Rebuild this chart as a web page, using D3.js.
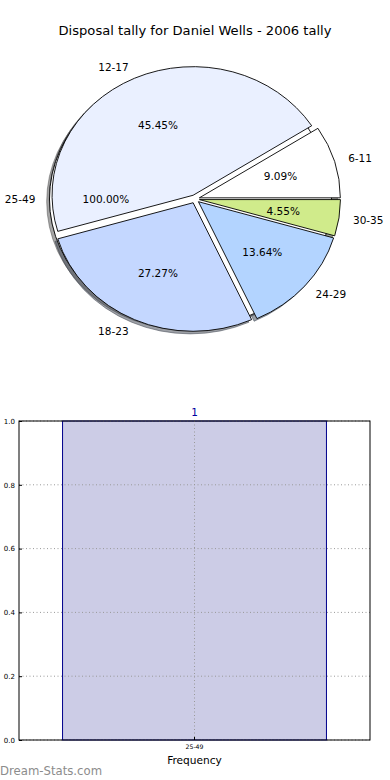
<!DOCTYPE html>
<html><head><meta charset="utf-8">
<script src="https://cdn.jsdelivr.net/npm/d3@7"></script>
<style>body{margin:0;background:#fff}svg{display:block;font-family:"DejaVu Sans",sans-serif}</style>
</head><body>
<script>
// ---- data ----
const title = "Disposal tally for Daniel Wells - 2006 tally";
const pieCategories = ["6-11", "12-17", "18-23", "24-29", "30-35"];
const pieValues = [9.09, 45.45, 27.27, 13.64, 4.55];
const pieColors = ["#FFFFFF", "#EAF0FF", "#C4D7FF", "#B3D4FF", "#D0EB8B"];
const fullCategory = "25-49";
const fullValue = 100.0;
const fullColor = "#FFFFFF";
const barCategories = ["25-49"];
const barValues = [1];
const yTicks = [0.0, 0.2, 0.4, 0.6, 0.8, 1.0];
const xLabel = "Frequency";
const watermark = "Dream-Stats.com";

// ---- layout ----
const W = 390, H = 780;
const svg = d3.select("body").append("svg").attr("width", W).attr("height", H);

svg.append("text").attr("x", 195).attr("y", 35).attr("text-anchor", "middle")
  .attr("font-size", 13.1).attr("fill", "#000").text(title);

// pie (elliptical, matplotlib-style: starts at 3 o'clock, counter-clockwise)
const cx = 195, cy = 199, rx = 141, ry = 128.5, explode = 0.032;
const arc = d3.arc().innerRadius(0).outerRadius(1);
const pie = d3.pie().sort(null).value(d => d).startAngle(Math.PI / 2).endAngle(Math.PI / 2 - 2 * Math.PI);
const arcs = pie(pieValues);
const fullArc = {startAngle: Math.PI / 2, endAngle: Math.PI / 2 - 2 * Math.PI};
const fullMid = (fullArc.startAngle + fullArc.endAngle) / 2;

function off(mid, k) { return [k * rx * Math.sin(mid), -k * ry * Math.cos(mid)]; }
function midOf(a) { return (a.startAngle + a.endAngle) / 2; }
function shade(c) { const r = d3.rgb(c); return d3.rgb(r.r * 0.3, r.g * 0.3, r.b * 0.3).toString(); }

const gPie = svg.append("g");
const allWedges = [{a: fullArc, color: fullColor}].concat(arcs.map((a, i) => ({a, color: pieColors[i]})));

// shadows
allWedges.forEach(w => {
  const [dx, dy] = off(midOf(w.a), explode);
  gPie.append("path").attr("d", arc(w.a))
    .attr("transform", `translate(${cx + dx - 2.8},${cy + dy + 2.6}) scale(${rx},${ry})`)
    .attr("fill", shade(w.color)).attr("fill-opacity", 0.5)
    .attr("stroke", shade(w.color)).attr("stroke-opacity", 0.5)
    .attr("stroke-width", 1).attr("vector-effect", "non-scaling-stroke");
});
// wedges
allWedges.forEach(w => {
  const [dx, dy] = off(midOf(w.a), explode);
  gPie.append("path").attr("d", arc(w.a))
    .attr("transform", `translate(${cx + dx},${cy + dy}) scale(${rx},${ry})`)
    .attr("fill", w.color).attr("stroke", "#000").attr("stroke-width", 0.9)
    .attr("vector-effect", "non-scaling-stroke").attr("stroke-linejoin", "round");
});
// labels
const labelItems = [{mid: fullMid, cat: fullCategory, val: fullValue}]
  .concat(arcs.map((a, i) => ({mid: midOf(a), cat: pieCategories[i], val: pieValues[i]})));
labelItems.forEach(l => {
  const [dx, dy] = off(l.mid, explode);
  const [lx, ly] = off(l.mid, 1.1);
  const [px, py] = off(l.mid, 0.6);
  svg.append("text").attr("x", cx + dx + lx).attr("y", cy + dy + ly)
    .attr("text-anchor", lx > 0 ? "start" : "end").attr("dominant-baseline", "central")
    .attr("font-size", 10.5).text(l.cat);
  svg.append("text").attr("x", cx + dx + px).attr("y", cy + dy + py)
    .attr("text-anchor", "middle").attr("dominant-baseline", "central")
    .attr("font-size", 10.5).text(l.val.toFixed(2) + "%");
});

// ---- bar chart ----
const ax0 = 19, ax1 = 370, ay0 = 421, ay1 = 740;
const x = d3.scaleBand().domain(barCategories).range([ax0, ax1]).paddingInner(0).paddingOuter(0.165);
const y = d3.scaleLinear().domain([0, 1]).range([ay1, ay0]);
const gB = svg.append("g");

gB.selectAll("rect.bar").data(barValues).join("rect")
  .attr("x", (d, i) => x(barCategories[i])).attr("width", x.bandwidth())
  .attr("y", d => y(d)).attr("height", d => y(0) - y(d))
  .attr("fill", "#CCCCE6").attr("stroke", "#00008B").attr("stroke-width", 1);

// grid
gB.selectAll("line.gy").data(yTicks).join("line")
  .attr("x1", ax0).attr("x2", ax1).attr("y1", d => y(d)).attr("y2", d => y(d))
  .attr("stroke", "#999").attr("stroke-width", 1).attr("stroke-dasharray", "1,2.5");
gB.selectAll("line.gx").data(barCategories).join("line")
  .attr("x1", d => x(d) + x.bandwidth() / 2).attr("x2", d => x(d) + x.bandwidth() / 2)
  .attr("y1", ay0).attr("y2", ay1)
  .attr("stroke", "#999").attr("stroke-width", 1).attr("stroke-dasharray", "1,2.5");

// axes box
gB.append("rect").attr("x", ax0).attr("y", ay0).attr("width", ax1 - ax0).attr("height", ay1 - ay0)
  .attr("fill", "none").attr("stroke", "#000").attr("stroke-width", 1);

// y axis ticks
const yAxis = d3.axisLeft(y).tickValues(yTicks).tickFormat(d3.format(".1f")).tickSize(-3).tickPadding(4);
const gy = gB.append("g").attr("transform", `translate(${ax0},0)`).call(yAxis);
gy.select(".domain").remove();
gy.selectAll("text").attr("font-size", 7).attr("font-family", "DejaVu Sans").attr("fill", "#000");
gy.selectAll("line").attr("stroke", "#000");

// x axis ticks
const xAxis = d3.axisBottom(x).tickSize(-3).tickPadding(5);
const gx = gB.append("g").attr("transform", `translate(0,${ay1})`).call(xAxis);
gx.select(".domain").remove();
gx.selectAll("text").attr("font-size", 6.2).attr("font-family", "DejaVu Sans").attr("fill", "#000");
gx.selectAll("line").attr("stroke", "#000");

// value label
gB.selectAll("text.vl").data(barValues).join("text")
  .attr("x", (d, i) => x(barCategories[i]) + x.bandwidth() / 2).attr("y", d => y(d) - 5)
  .attr("text-anchor", "middle").attr("font-size", 10.5).attr("fill", "#0000A0").text(d => d);

svg.append("text").attr("x", 194.5).attr("y", 764).attr("text-anchor", "middle")
  .attr("font-size", 10.6).text(xLabel);

svg.append("text").attr("x", 0).attr("y", 775).attr("font-size", 11.7)
  .attr("fill", "#8c8c8c").text(watermark);
</script>
</body></html>
